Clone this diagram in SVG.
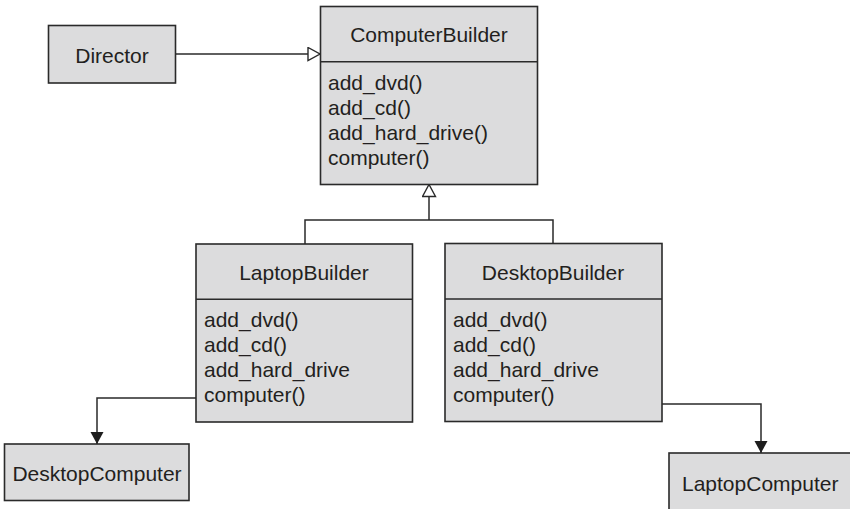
<svg xmlns="http://www.w3.org/2000/svg" width="850" height="509" viewBox="0 0 850 509">
<defs>
<marker id="hollow" markerUnits="userSpaceOnUse" markerWidth="14" markerHeight="16" refX="13" refY="7" orient="auto">
<path d="M1,0.5 L13,7 L1,13.5 Z" fill="#ffffff" stroke="#2a2a2a" stroke-width="1.4"/>
</marker>
<marker id="filled" markerUnits="userSpaceOnUse" markerWidth="14" markerHeight="14" refX="12" refY="6.5" orient="auto">
<path d="M0,0 L12,6.5 L0,13 Z" fill="#1e1e1e"/>
</marker>
</defs>
<style>
.box{fill:#dcdcdd;stroke:#2a2a2a;stroke-width:1.6}
.line{fill:none;stroke:#2a2a2a;stroke-width:1.5}
text{font-family:"Liberation Sans",Arial,sans-serif;font-size:21px;fill:#231f20}
.c{text-anchor:middle}
</style>
<rect width="850" height="509" fill="#ffffff"/>
<g id="connectors">
<path class="line" d="M176,54 H320" marker-end="url(#hollow)"/>
<path class="line" d="M305,244 V220 H553 V243"/>
<path class="line" d="M429,220 V184.5" marker-end="url(#hollow)"/>
<path class="line" d="M196,398 H97 V444" marker-end="url(#filled)"/>
<path class="line" d="M662,404 H761 V453" marker-end="url(#filled)"/>
</g>
<g id="Director">
<rect class="box" x="48.5" y="25.5" width="127" height="57.5"/>
<text class="c" x="112" y="62.5">Director</text>
</g>
<g id="ComputerBuilder">
<rect class="box" x="320.5" y="6.5" width="217" height="178"/>
<line class="line" x1="320.5" y1="61.7" x2="537.5" y2="61.7"/>
<text class="c" x="429" y="41.5">ComputerBuilder</text>
<text x="328" y="90">add_dvd()</text>
<text x="328" y="115">add_cd()</text>
<text x="328" y="140">add_hard_drive()</text>
<text x="328" y="165">computer()</text>
</g>
<g id="LaptopBuilder">
<rect class="box" x="196" y="244" width="216.5" height="178"/>
<line class="line" x1="196" y1="299.3" x2="412.5" y2="299.3"/>
<text class="c" x="304" y="279.5">LaptopBuilder</text>
<text x="204" y="327">add_dvd()</text>
<text x="204" y="352">add_cd()</text>
<text x="204" y="377">add_hard_drive</text>
<text x="204" y="402">computer()</text>
</g>
<g id="DesktopBuilder">
<rect class="box" x="445" y="243.5" width="217" height="178"/>
<line class="line" x1="445" y1="299" x2="662" y2="299"/>
<text class="c" x="553" y="279.5">DesktopBuilder</text>
<text x="453" y="327">add_dvd()</text>
<text x="453" y="352">add_cd()</text>
<text x="453" y="377">add_hard_drive</text>
<text x="453" y="402">computer()</text>
</g>
<g id="DesktopComputer">
<rect class="box" x="4.5" y="444" width="184.5" height="56.5"/>
<text class="c" x="97" y="480.5">DesktopComputer</text>
</g>
<g id="LaptopComputer">
<rect class="box" x="669" y="453" width="190" height="70"/>
<text x="682" y="490.5">LaptopComputer</text>
</g>
</svg>
